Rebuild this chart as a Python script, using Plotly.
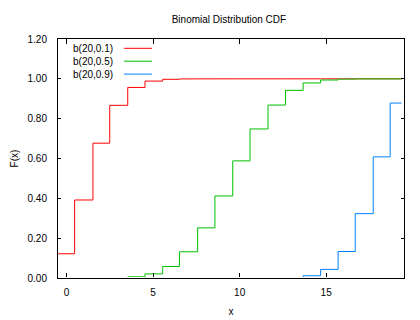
import plotly.graph_objects as go

# Step edges along x (start of each k segment, k = 0..19, then the end of the last one)
edges = [-0.5, 0.46, 1.52, 2.49, 3.53, 4.53, 5.55, 6.52, 7.57, 8.57, 9.6,
         10.6, 11.64, 12.65, 13.67, 14.68, 15.69, 16.68, 17.72, 18.7, 19.36]

# CDF values F(k) for k = 0..19
cdf_p01 = [0.1216, 0.3917, 0.6769, 0.8670, 0.9568, 0.9887, 0.9976, 0.9996, 0.9999, 1.0000,
           1.0000, 1.0000, 1.0000, 1.0000, 1.0000, 1.0000, 1.0000, 1.0000, 1.0000, 1.0000]
cdf_p05 = [0.0000, 0.0000, 0.0002, 0.0013, 0.0059, 0.0207, 0.0577, 0.1316, 0.2517, 0.4119,
           0.5881, 0.7483, 0.8684, 0.9423, 0.9793, 0.9941, 0.9987, 0.9998, 1.0000, 1.0000]
cdf_p09 = [0.0000, 0.0000, 0.0000, 0.0000, 0.0000, 0.0000, 0.0000, 0.0000, 0.0000, 0.0000,
           0.0000, 0.0001, 0.0004, 0.0024, 0.0113, 0.0432, 0.1330, 0.3231, 0.6083, 0.8784]

series_names = ["b(20,0.1)", "b(20,0.5)", "b(20,0.9)"]
series_vals = [cdf_p01, cdf_p05, cdf_p09]
series_colors = ["#ff0000", "#00c000", "#0080ff"]

x_ticks = [0, 5, 10, 15]
y_ticks = [0.0, 0.2, 0.4, 0.6, 0.8, 1.0, 1.2]

FONT = "Liberation Sans, Arial, sans-serif"
W, H = 420, 320
ML, MR, MT, MB = 58, 16, 39, 42
PW, PH = W - ML - MR, H - MT - MB

fig = go.Figure()
for name, vals, col in zip(series_names, series_vals, series_colors):
    fig.add_trace(go.Scatter(
        x=edges, y=vals + [vals[-1]], mode="lines", name=name,
        line=dict(color=col, width=1, shape="hv"), showlegend=False,
        hoverinfo="skip"))

# gnuplot-style key: right-aligned text, line sample to the right
def px_x(p):
    return (p - ML) / PW

def px_y(p):
    return (H - MB - p) / PH

annotations = []
shapes = []
for i, (name, col) in enumerate(zip(series_names, series_colors)):
    yy = 48.3 + i * 12.9
    annotations.append(dict(
        x=px_x(114.5), y=px_y(yy), xref="paper", yref="paper", text=name,
        showarrow=False, xanchor="right", yanchor="middle",
        font=dict(family=FONT, size=10, color="black")))
    shapes.append(dict(
        type="line", xref="paper", yref="paper",
        x0=px_x(124), x1=px_x(152), y0=px_y(yy), y1=px_y(yy),
        line=dict(color=col, width=1)))

# the bottom border hides the parts of the curves lying on F = 0 (as in gnuplot)
shapes.append(dict(
    type="line", xref="x", yref="y", x0=-0.5, x1=19.5, y0=0, y1=0,
    line=dict(color="white", width=2), layer="above"))

fig.update_layout(
    width=W, height=H,
    margin=dict(l=ML, r=MR, t=MT, b=MB, pad=0, autoexpand=False),
    paper_bgcolor="white", plot_bgcolor="white",
    font=dict(family=FONT, size=10, color="black"),
    title=dict(text="Binomial Distribution CDF", x=0.494, xref="paper",
               y=1 - 19 / H, yref="container", xanchor="center", yanchor="middle",
               font=dict(family=FONT, size=10, color="black")),
    annotations=annotations, shapes=shapes, showlegend=False,
)
fig.update_xaxes(
    range=[-0.5, 19.5], tickvals=x_ticks, ticktext=[str(v) for v in x_ticks],
    ticks="inside", ticklen=5, tickwidth=1, tickcolor="black",
    showline=True, linecolor="black", linewidth=1, mirror="ticks",
    showgrid=False, zeroline=False, ticklabelstandoff=5, automargin=False,
    title=dict(text="x", standoff=10, font=dict(family=FONT, size=10)),
)
fig.update_yaxes(
    range=[0, 1.2], tickvals=y_ticks, ticktext=["%.2f" % v for v in y_ticks],
    ticks="inside", ticklen=3, tickwidth=1, tickcolor="black",
    showline=True, linecolor="black", linewidth=1, mirror="ticks",
    showgrid=False, zeroline=False, ticklabelstandoff=8, automargin=False,
    title=dict(text="F(x)", standoff=7, font=dict(family=FONT, size=10)),
)

fig.write_html("out.html")
